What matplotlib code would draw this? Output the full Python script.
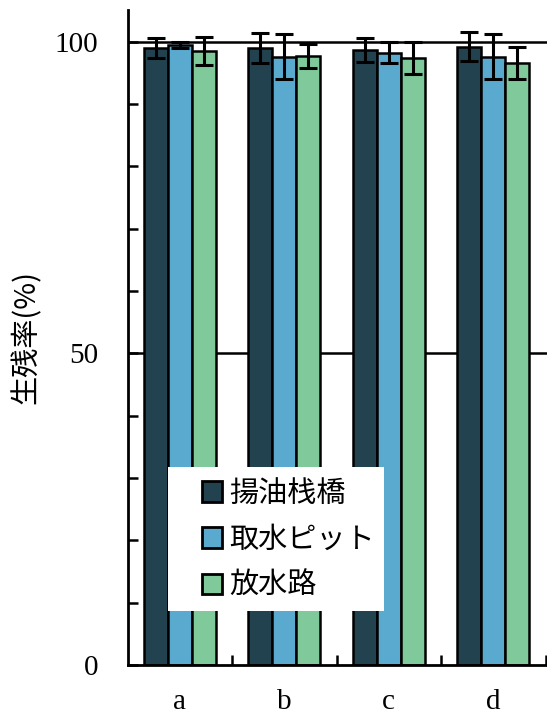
import numpy as np
import matplotlib
matplotlib.use("Agg")
import matplotlib.pyplot as plt
from matplotlib.patches import Rectangle
from matplotlib.ticker import FixedLocator, NullFormatter

plt.rcParams['font.family'] = ['Noto Sans CJK JP', 'DejaVu Sans']

# ===== データ =====
categories = ['a', 'b', 'c', 'd']
series_names = ['揚油栈橋', '取水ピット', '放水路']
survival = [
    [99.0, 99.0, 98.7, 99.2],   # 揚油栈橋
    [99.5, 97.6, 98.2, 97.6],   # 取水ピット
    [98.5, 97.7, 97.4, 96.6],   # 放水路
]
errors = [
    [1.6, 2.4, 1.9, 2.3],
    [0.5, 3.6, 1.7, 3.6],
    [2.3, 1.9, 2.6, 2.6],
]
y_major = [0, 50, 100]
y_minor = [10, 20, 30, 40, 60, 70, 80, 90]
grid_levels = [50, 100]

colors = ['#22424f', '#5aaad0', '#80c99a']

# ===== 図 =====
fig = plt.figure(figsize=(5.47, 7.16), dpi=100)
ax = fig.add_axes([0.2331, 0.0712, 0.7669, 0.915])

x = np.arange(len(categories))
width = 0.23
offsets = [-width, 0, width]

for lv in grid_levels:
    ax.axhline(lv, color='black', lw=1.8, zorder=1)

bars = []
for i in range(len(series_names)):
    b = ax.bar(x + offsets[i], survival[i], width, color=colors[i],
               edgecolor='black', linewidth=1.8, label=series_names[i], zorder=2)
    ax.errorbar(x + offsets[i], survival[i], yerr=errors[i], fmt='none',
                ecolor='black', elinewidth=2.2, capsize=6.5, capthick=2.2, zorder=3)
    bars.append(b)

ax.set_xlim(-0.5, 3.514)
ax.set_ylim(0, 105.1)

ax.spines['top'].set_visible(False)
ax.spines['right'].set_visible(False)
ax.spines['left'].set_linewidth(2)
ax.spines['bottom'].set_linewidth(2)

ax.set_yticks(y_major)
ax.set_yticklabels([str(v) for v in y_major], family='Liberation Serif', fontsize=21)
ax.yaxis.set_minor_locator(FixedLocator(y_minor))
ax.tick_params(axis='y', which='both', direction='in', length=7, width=1.8, pad=21)

ax.set_xticks(x)
ax.set_xticklabels(categories, family='Liberation Serif', fontsize=21)
ax.xaxis.set_minor_locator(FixedLocator(list(x + 0.5)))
ax.xaxis.set_minor_formatter(NullFormatter())
ax.tick_params(axis='x', which='major', length=0, pad=17)
ax.tick_params(axis='x', which='minor', direction='in', length=7, width=1.8)

ax.set_ylabel('生残率(%)', fontsize=21)
ax.yaxis.set_label_coords(-0.204, 0.5)

# 凡例
ax.add_patch(Rectangle((0.0965, 0.0824), 0.5145, 0.2196, transform=ax.transAxes,
                       facecolor='white', edgecolor='none', zorder=4))
leg = ax.legend(handles=bars, labels=series_names, loc='center left',
                bbox_to_anchor=(0.1776, 0.191), frameon=False, fontsize=21,
                borderpad=0, borderaxespad=0, handlelength=0.7, handleheight=0.7,
                handletextpad=0.25, labelspacing=0.55)
leg.set_zorder(5)
for h in leg.legend_handles:
    h.set_linewidth(2)

fig.savefig('out.png', dpi=100)
